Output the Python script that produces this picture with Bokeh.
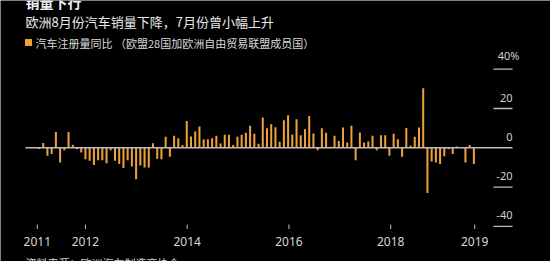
from bokeh.plotting import figure
from bokeh.models import Range1d
from bokeh.embed import file_html
from bokeh.resources import INLINE
from bokeh.core.properties import value

# ---------------- data ----------------
# month index 0 = Jan 2011 ... 103 = Aug 2019, YoY % change of new car registrations
yoy = [
    -0.6, 2.4, -4.0, -3.2, 8.0, -7.5, -1.2, 8.0, 1.5, -0.8, -2.4, -5.8,      # 2011
    -6.6, -8.8, -6.3, -6.3, -7.8, -1.2, -6.6, -8.3, -10.3, -6.3, -9.5, -16.0,  # 2012
    -9.0, -10.0, -10.0, 2.3, -5.6, -5.8, 5.6, -4.6, 6.1, 4.9, 1.4, 13.7,      # 2013
    5.8, 8.3, 10.8, 4.4, 4.4, 4.9, 6.1, 2.2, 6.6, 6.6, 1.4, 5.6,             # 2014
    6.6, 7.6, 11.2, 7.2, 2.0, 15.4, 10.0, 12.0, 10.5, 3.1, 14.0, 16.6,       # 2015
    6.8, 14.5, 6.4, 9.5, 16.2, 7.3, -1.2, 10.0, 7.6, 0.5, 6.1, 3.4,          # 2016
    10.3, 2.7, 11.2, -6.3, 7.8, 2.7, 3.2, 6.1, -1.2, 6.4, 6.4, -4.1,         # 2017
    7.1, 4.4, -4.6, 10.1, 1.0, 5.6, 10.3, 30.3, -23.0, -7.0, -7.5, -8.3,     # 2018
    -4.3, -0.8, -3.2, 0.6, 0.2, -7.5, 1.4, -8.3,                             # 2019
]
months = list(range(len(yoy)))

x_tick_pos = [-0.4, 11.0, 35.1, 59.2, 83.3, 103.2]
x_tick_labels = ["2011", "2012", "2014", "2016", "2018", "2019"]
y_ticks = [40, 20, 0, -20, -40]
y_tick_labels = ["40%", "20", "0", "-20", "-40"]

title_text = "销量下行"
subtitle_text = "欧洲8月份汽车销量下降，7月份曾小幅上升"
legend_text = "汽车注册量同比 （欧盟28国加欧洲自由贸易联盟成员国）"
source_text = "资料来源：欧洲汽车制造商协会"

# ---------------- layout calibration ----------------
W, H = 550, 261
PX_PER_MONTH = 4.222
X0_PX = 38.5      # pixel of month 0
Y0_PX = 147.3     # pixel of 0 %
PX_PER_PCT = 1.965

x_start = -X0_PX / PX_PER_MONTH
x_end = x_start + W / PX_PER_MONTH
y_start = -(H - Y0_PX) / PX_PER_PCT
y_end = y_start + H / PX_PER_PCT


def xd(px):
    return (px - X0_PX) / PX_PER_MONTH


def yd(py):
    return (Y0_PX - py) / PX_PER_PCT


BAR = "#EFA03E"
AXIS = "#BDBDBD"
CJK = value("Noto Sans CJK SC")
NUM = value("Noto Sans")

p = figure(width=W, height=H, x_range=Range1d(x_start, x_end), y_range=Range1d(y_start, y_end),
           x_axis_location=None, y_axis_location=None, toolbar_location=None,
           output_backend="svg", min_border=0, background_fill_color="black",
           border_fill_color="black", outline_line_color=None)
p.xgrid.grid_line_color = None
p.ygrid.grid_line_color = None

# bars
p.vbar(x=months, top=yoy, bottom=0, width=0.48, fill_color=BAR, line_color=None)

# gridline stubs on the right + zero line across
left_x = xd(25)
right_x = xd(512)
stub_x = xd(493)
nz = [t for t in y_ticks if t != 0]
p.segment(x0=[stub_x] * len(nz), x1=[right_x] * len(nz), y0=nz, y1=nz,
          line_color=AXIS, line_width=1.3)
p.segment(x0=[left_x], x1=[right_x], y0=[0], y1=[0], line_color=AXIS, line_width=1.5)

# y tick labels (above stubs)
plain_idx = [i for i, t in enumerate(y_tick_labels) if not t.endswith("%")]
pct_idx = [i for i, t in enumerate(y_tick_labels) if t.endswith("%")]
p.text(x=[right_x] * len(plain_idx), y=[y_ticks[i] for i in plain_idx],
       text=[y_tick_labels[i] for i in plain_idx], text_align="right", text_baseline="middle",
       y_offset=-11, text_font=NUM, text_font_size="11px", text_color="#CFCFCF")
p.text(x=[right_x] * len(pct_idx), y=[y_ticks[i] for i in pct_idx],
       text=[y_tick_labels[i] for i in pct_idx], text_align="right", text_baseline="middle",
       x_offset=7, y_offset=-13.5, text_font=NUM, text_font_size="11px", text_color="#CFCFCF")

# x ticks and labels
p.segment(x0=x_tick_pos, x1=x_tick_pos, y0=[yd(224)] * len(x_tick_pos), y1=[yd(228.5)] * len(x_tick_pos),
          line_color=AXIS, line_width=1)
p.text(x=x_tick_pos, y=[yd(241)] * len(x_tick_pos), text=x_tick_labels, text_align="center",
       text_baseline="middle", text_font=NUM, text_font_size="12px", text_color="#D6D6D6")

# titles
p.text(x=[xd(25)], y=[yd(1.5)], text=[title_text], text_align="left", text_baseline="alphabetic",
       text_font=CJK, text_font_size="14px", text_font_style="bold", text_color="#F0F0F0")
p.text(x=[xd(25)], y=[yd(21)], text=[subtitle_text], text_align="left", text_baseline="alphabetic",
       text_font=CJK, text_font_size="13px", text_color="#E8E8E8")

# legend
p.rect(x=[xd(28)], y=[yd(42)], width=7, height=7, width_units="screen", height_units="screen",
       fill_color=BAR, line_color=None)
p.text(x=[xd(35)], y=[yd(42)], text=[legend_text], text_align="left", text_baseline="middle",
       text_font=CJK, text_font_size="11px", text_color="#DADADA")

# source
p.text(x=[xd(25)], y=[yd(254)], text=[source_text], text_align="left", text_baseline="top",
       text_font=CJK, text_font_size="11px", text_color="#CFCFCF")

open("out.html", "w").write(file_html(p, INLINE))
